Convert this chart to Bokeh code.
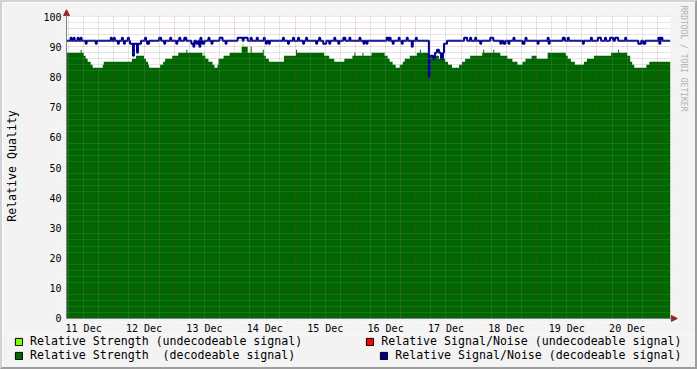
import math
from bokeh.plotting import figure
from bokeh.layouts import column
from bokeh.models import (FixedTicker, Grid, Arrow, NormalHead, BoxAnnotation, Range1d,
                          Legend, LegendItem, Title)
from bokeh.embed import file_html
from bokeh.resources import INLINE

# ---- data (time = hours since 11 Dec 00:00; one sample = 0.4 h) ----
T_START, T_END = 5.2, 245.2
SAMPLE = 0.4

# Relative Strength (decodeable signal): (hour where value starts, value)
strength_points = [
    (5.2, 88), (10.8, 89), (11.2, 88), (12.0, 87), (12.8, 86), (13.6, 85), (14.8, 84), (15.6, 83),
    (19.6, 84), (20.0, 85), (31.2, 86), (32.8, 87), (36.0, 86), (36.8, 85), (37.6, 84), (38.0, 83),
    (42.4, 84), (43.6, 85), (44.4, 86), (47.2, 87), (49.6, 88), (52.8, 89), (53.2, 88), (59.2, 87),
    (60.4, 86), (61.6, 85), (63.2, 84), (64.0, 83), (65.2, 84), (65.6, 86), (67.6, 87), (70.0, 88),
    (74.8, 90), (77.2, 88), (78.4, 90), (78.8, 88), (83.2, 89), (83.6, 87), (84.4, 86), (85.6, 85),
    (91.6, 87), (96.4, 89), (96.8, 88), (107.6, 87), (109.6, 86), (111.6, 85), (115.6, 86), (118.8, 87),
    (119.6, 88), (120.0, 87), (122.8, 88), (123.2, 87), (126.4, 88), (131.6, 87), (132.8, 86), (133.6, 85),
    (134.8, 84), (136.0, 83), (137.6, 84), (138.8, 85), (139.6, 86), (141.6, 87), (144.4, 88), (145.6, 89),
    (146.0, 88), (149.2, 87), (153.2, 86), (155.6, 85), (156.8, 84), (158.4, 83), (161.2, 84), (162.4, 85),
    (163.6, 86), (165.6, 87), (170.4, 88), (170.8, 89), (171.2, 88), (174.8, 89), (175.2, 88), (177.6, 87),
    (180.4, 86), (182.4, 85), (184.4, 84), (186.4, 85), (187.6, 86), (190.0, 87), (192.0, 86), (196.4, 88),
    (203.6, 87), (204.4, 86), (205.6, 85), (207.2, 84), (210.8, 85), (212.0, 86), (214.8, 87), (221.6, 88),
    (224.4, 89), (224.8, 88), (228.0, 87), (229.2, 85), (230.0, 84), (230.8, 83), (235.6, 84), (236.8, 85),
]

# Relative Signal/Noise (decodeable signal)
snr_points = [
    (5.2, 92), (6.8, 93), (7.2, 92), (8.0, 93), (8.4, 92), (9.6, 93), (10.0, 92), (10.8, 93), (11.2, 92),
    (12.8, 91), (13.2, 92), (16.8, 91), (17.2, 92), (22.8, 93), (23.2, 92), (24.0, 93), (24.4, 92),
    (25.6, 91), (26.0, 92), (27.2, 93), (27.6, 92), (28.0, 91), (28.4, 92), (29.6, 93), (30.0, 92),
    (30.4, 91), (31.6, 87), (32.0, 91), (33.2, 88), (33.6, 91), (34.8, 92), (36.4, 93), (36.8, 92),
    (37.2, 91), (38.0, 92), (42.0, 93), (42.8, 92), (44.0, 91), (44.4, 92), (46.4, 93), (46.8, 92),
    (48.8, 91), (49.2, 92), (50.0, 93), (50.4, 92), (52.0, 93), (52.8, 92), (54.8, 91), (55.6, 90),
    (56.0, 92), (56.8, 91), (57.6, 92), (58.0, 90), (58.4, 93), (58.8, 92), (59.2, 91), (60.0, 92),
    (61.6, 93), (62.0, 92), (62.8, 91), (63.2, 92), (66.0, 93), (67.2, 92), (68.4, 91), (68.8, 92),
    (73.2, 93), (75.2, 92), (75.6, 93), (77.2, 92), (78.4, 93), (78.8, 92), (80.8, 93), (81.2, 92),
    (83.6, 93), (84.0, 92), (84.4, 91), (84.8, 92), (85.6, 91), (86.0, 92), (91.2, 93), (91.6, 92),
    (93.2, 91), (93.6, 92), (95.2, 93), (95.6, 92), (97.2, 93), (97.6, 92), (99.2, 91), (99.6, 92),
    (100.4, 93), (100.8, 92), (104.4, 91), (104.8, 92), (105.6, 93), (106.0, 92), (107.2, 91), (108.4, 92),
    (109.6, 91), (110.0, 92), (111.6, 93), (112.0, 92), (113.2, 91), (113.6, 92), (115.2, 93), (116.0, 92),
    (117.6, 93), (118.0, 92), (121.6, 93), (122.0, 92), (123.2, 91), (123.6, 92), (124.4, 91), (124.8, 92),
    (132.4, 93), (133.2, 92), (133.6, 93), (134.0, 92), (134.8, 91), (135.2, 92), (137.2, 93), (137.6, 92),
    (138.4, 91), (138.8, 92), (140.4, 93), (140.8, 92), (142.4, 90), (142.8, 92), (144.0, 93), (144.4, 92),
    (149.2, 80), (149.6, 87), (150.8, 86), (151.6, 88), (152.4, 89), (153.2, 88), (154.0, 86), (154.8, 88),
    (155.2, 91), (156.4, 92), (163.2, 93), (164.4, 92), (165.6, 93), (166.0, 92), (167.6, 93), (168.0, 92),
    (169.6, 91), (170.0, 92), (173.6, 93), (174.8, 92), (177.6, 91), (178.0, 92), (178.8, 91), (179.6, 92),
    (180.8, 91), (181.2, 92), (182.8, 93), (183.2, 92), (186.4, 91), (187.2, 92), (187.6, 93), (188.0, 92),
    (192.4, 91), (192.8, 92), (196.4, 93), (196.8, 91), (197.2, 92), (202.4, 93), (203.2, 92), (204.4, 93),
    (204.8, 92), (210.4, 91), (210.8, 92), (213.6, 93), (214.0, 92), (216.4, 93), (217.6, 92), (219.2, 93),
    (219.6, 92), (221.2, 93), (222.4, 92), (223.2, 93), (224.4, 92), (227.2, 93), (227.6, 92), (232.4, 91),
    (233.6, 92), (234.4, 91), (235.2, 92), (240.4, 93), (240.8, 91), (241.2, 93), (242.0, 92),
]

# Relative Strength (undecodeable signal): isolated samples
strength_undec_t = [59.6, 75.2]
strength_undec_v = [88, 91]
# Relative Signal/Noise (undecodeable signal): no samples in this period
snr_undec_t = []
snr_undec_v = []

day_ticks = [12, 36, 60, 84, 108, 132, 156, 180, 204, 228]
day_labels = ["11 Dec", "12 Dec", "13 Dec", "14 Dec", "15 Dec",
              "16 Dec", "17 Dec", "18 Dec", "19 Dec", "20 Dec"]
y_ticks = [0, 10, 20, 30, 40, 50, 60, 70, 80, 90, 100]

legend_labels = ["Relative Strength (undecodeable signal)",
                 "Relative Signal/Noise (undecodeable signal)",
                 "Relative Strength  (decodeable signal)",
                 "Relative Signal/Noise (decodeable signal)"]

# ---- styles ----
GREEN = "#006600"
LIME = "#80FF00"
RED = "#FF0000"
BLUE = "#000090"
BACK = "#F3F3F3"
LIGHT_EDGE = "#D2D2D2"
DARK_EDGE = "#9E9E9E"
ARROW_COL = "#982828"
FONT = "DejaVu Sans Mono"
legend_colors = [LIME, RED, GREEN, BLUE]
NAN = float("nan")

strength_t = [t for t, _ in strength_points] + [T_END]
strength_v = [v for _, v in strength_points] + [strength_points[-1][1]]
snr_t = [t for t, _ in snr_points] + [T_END]
snr_v = [v for _, v in snr_points] + [snr_points[-1][1]]

# frame is a little larger than the data canvas so the axis arrows fit inside it
X_LO, X_HI = T_START - 4 * SAMPLE, T_START + 607 * SAMPLE
Y_LO, Y_HI = -4 / 3, 100 + 7 / 3

p = figure(width=697, height=334,
           x_range=Range1d(X_LO, X_HI), y_range=Range1d(Y_LO, Y_HI),
           output_backend="svg", toolbar_location=None,
           min_border_left=60, min_border_right=22, min_border_top=7, min_border_bottom=14,
           background_fill_color="#FFFFFF", border_fill_color=BACK,
           outline_line_color=None)
p.frame_align = False
p.styles = {"border-style": "solid", "border-width": "2px 2px 0px 2px",
            "border-color": f"{LIGHT_EDGE} {DARK_EDGE} {DARK_EDGE} {LIGHT_EDGE}"}
p.xgrid.visible = False
p.ygrid.visible = False

# data
p.quad(left=strength_undec_t, right=[t + SAMPLE for t in strength_undec_t],
       bottom=0, top=strength_undec_v, fill_color=LIME, line_color=None)
p.varea_step(x=strength_t, y1=0, y2=strength_v, step_mode="after", fill_color=GREEN)
if snr_undec_t:
    p.step(x=snr_undec_t, y=snr_undec_v, mode="after", line_color=RED, line_width=2)
p.step(x=snr_t, y=snr_v, mode="after", line_color=BLUE, line_width=2)

# grids (drawn over the data like rrdtool)
six_hours = [h for h in range(6, 246, 6) if h % 24]
midnights = [h for h in range(24, 246, 24)]
y_minor = [v for v in range(2, 100, 2) if v % 10]
y_major = [v for v in range(10, 101, 10)]
for dim, ticks, col, alpha in [(0, six_hours, "#8C8C8C", 0.45), (1, y_minor, "#8C8C8C", 0.45),
                               (0, midnights, "#B43232", 0.35), (1, y_major, "#B43232", 0.35)]:
    p.add_layout(Grid(dimension=dim, ticker=FixedTicker(ticks=ticks), grid_line_color=col,
                      grid_line_alpha=alpha, grid_line_dash="1 1", level="overlay"))

# background margins of the frame outside the data canvas
for kw in [dict(bottom=100), dict(top=0), dict(right=T_START), dict(left=T_END)]:
    p.add_layout(BoxAnnotation(fill_color=BACK, fill_alpha=1, line_color=None,
                               level="overlay", **kw))

# axis lines with arrow heads
for xe, ye in [(T_START, Y_HI - 0.02), (X_HI - 0.05, 0)]:
    p.add_layout(Arrow(end=NormalHead(size=6, fill_color=ARROW_COL, line_color=ARROW_COL),
                       x_start=T_START, y_start=0, x_end=xe, y_end=ye,
                       line_color="#808080", line_width=1, level="overlay"))

# axes
p.xaxis.ticker = FixedTicker(ticks=day_ticks, minor_ticks=[])
p.xaxis.major_label_overrides = {t: l for t, l in zip(day_ticks, day_labels)}
p.xaxis.major_tick_line_color = None
p.xaxis.minor_tick_line_color = None
p.xaxis.major_tick_out = 0
p.xaxis.major_tick_in = 0
p.xaxis.axis_line_color = None
p.xaxis.major_label_standoff = 0

p.yaxis.ticker = FixedTicker(ticks=y_ticks, minor_ticks=[])
p.yaxis.major_tick_line_color = None
p.yaxis.minor_tick_line_color = None
p.yaxis.major_tick_out = 0
p.yaxis.major_tick_in = 0
p.yaxis.axis_line_color = None
p.yaxis.major_label_standoff = 1
p.yaxis.axis_label = "Relative Quality"
p.yaxis.axis_label_standoff = 21
p.yaxis.axis_label_text_font = FONT
p.yaxis.axis_label_text_font_size = "11.6px"
p.yaxis.axis_label_text_font_style = "normal"
p.yaxis.axis_label_text_color = "#000000"

for ax in (p.xaxis, p.yaxis):
    ax.major_label_text_font = FONT
    ax.major_label_text_font_size = "10px"
    ax.major_label_text_color = "#000000"

# watermark on the right edge
p.add_layout(Title(text="RRDTOOL / TOBI OETIKER", align="left", vertical_align="middle",
                   offset=-4, standoff=0, text_font=FONT, text_font_size="8px",
                   text_font_style="normal", text_color="#B0B0B0"), "right")

# ---- legend strip (rrdtool style boxes) ----
leg = figure(width=697, height=35, x_range=Range1d(0, 1), y_range=Range1d(0, 1),
             output_backend="svg", toolbar_location=None,
             x_axis_type=None, y_axis_type=None,
             min_border_left=0, min_border_right=0, min_border_top=0, min_border_bottom=0,
             background_fill_color=BACK, border_fill_color=BACK, outline_line_color=None)
leg.frame_align = False
leg.styles = {"border-style": "solid", "border-width": "0px 2px 2px 2px",
              "border-color": f"{LIGHT_EDGE} {DARK_EDGE} {DARK_EDGE} {LIGHT_EDGE}"}
leg.xgrid.visible = False
leg.ygrid.visible = False
swatches = [leg.quad(left=[NAN], right=[NAN], bottom=[NAN], top=[NAN], fill_color=c,
                     line_color="#000000", line_width=1) for c in legend_colors]
row_spacing = [63, 84]
row_y = [21, 7]
for r in range(2):
    items = [LegendItem(label=legend_labels[2 * r + k], renderers=[swatches[2 * r + k]])
             for k in range(2)]
    leg.add_layout(Legend(items=items, orientation="horizontal", spacing=row_spacing[r],
                          location=(12, row_y[r]), glyph_width=9, glyph_height=9,
                          label_standoff=7, label_height=14, label_width=10,
                          padding=0, margin=0, border_line_color=None,
                          background_fill_alpha=0, label_text_font=FONT,
                          label_text_font_size="11.6px", label_text_color="#000000"))

layout = column(p, leg, spacing=0)
open("out.html", "w").write(file_html(layout, INLINE))
